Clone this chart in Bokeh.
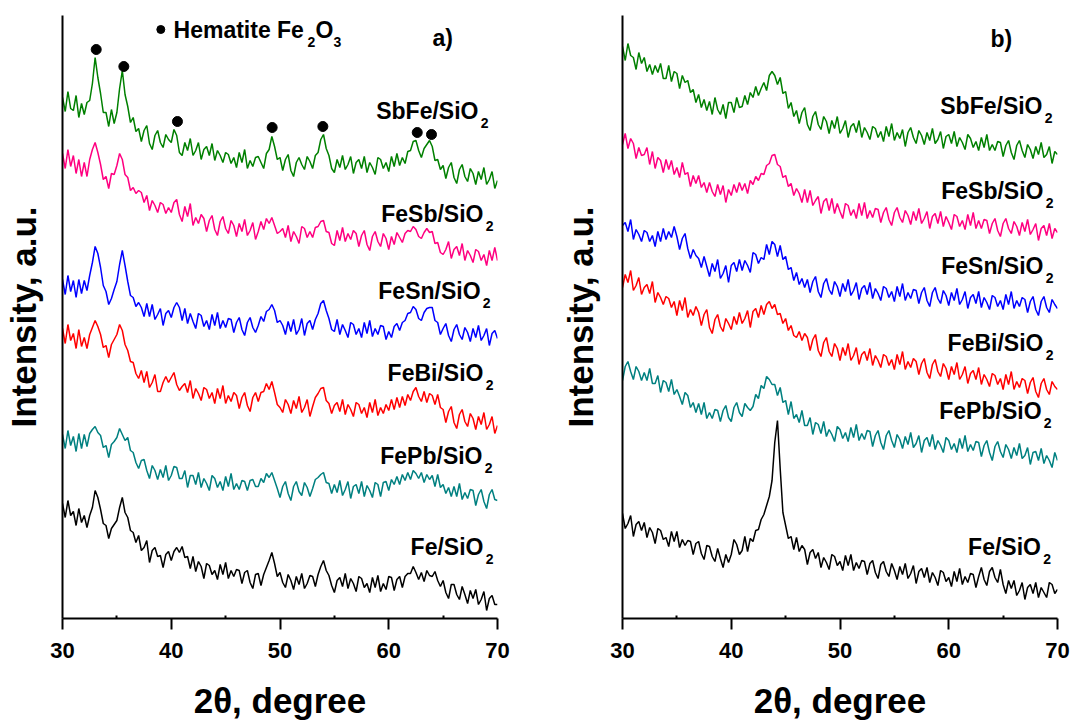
from bokeh.plotting import figure
from bokeh.layouts import row
from bokeh.models import Range1d, FixedTicker
from bokeh.core.properties import value
from bokeh.embed import file_html
from bokeh.resources import INLINE

FONT_NAME = "Liberation Sans"
FONT = value(FONT_NAME)

# 2-theta sampling (degrees), 0.25 deg step from 30 to 70
TWO_THETA = [round(30 + 0.25 * i, 2) for i in range(161)]

# ---------- panel a) intensities (a.u., offset stacked) ----------
A_SBFE = [523,509,529,512, 510,525,503,517, 506,518,520,537, 563,543,527,508,
          508,494,511,497, 508,532,550,526, 514,498,503,489, 492,479,490,495,
          477,471,485,490, 478,473,486,481, 478,491,485,468, 465,478,470,482,
          465,470,478,461, 471,474,465,477, 460,470,465,458, 468,466,457,463,
          453,468,458,471, 452,460,454,463, 464,458,452,467, 471,484,474,461,
          463,450,461,466, 450,444,458,463, 456,451,464,459, 452,465,468,481,
          486,472,465,452, 448,461,453,465, 451,456,464,447, 458,461,452,464,
          448,458,453,446, 463,461,452,458, 449,464,454,467, 455,463,457,469,
          470,479,480,470, 463,472,476,480, 474,460,461,451, 455,442,453,458,
          443,437,451,456, 444,439,452,447, 436,449,441,453, 436,441,449,432, 440]
A_FESB = [467,452,471,454, 465,447,461,444, 458,444,461,471, 478,468,456,441,
          444,432,447,446, 455,467,461,446, 443,430,433,427, 430,428,418,425,
          410,420,415,408, 418,416,407,413, 408,418,421,406, 399,414,404,417,
          395,403,397,406, 402,389,400,405, 391,385,399,404, 392,387,400,395,
          384,397,389,401, 385,390,398,381, 389,399,391,402, 397,403,395,387,
          389,392,383,395, 379,389,384,377, 394,392,383,389, 383,393,394,399,
          400,389,388,377, 375,390,380,393, 379,387,381,390, 387,374,385,390,
          376,370,384,389, 379,374,387,382, 371,384,376,388, 383,378,387,390,
          389,394,391,384, 382,388,392,388, 389,377,378,368, 366,371,379,362,
          371,374,365,377, 360,370,365,358, 371,369,360,366, 355,370,360,373, 360]
A_FESN = [341,326,345,329, 340,323,341,327, 340,330,345,358, 374,367,353,335,
          329,316,322,331, 339,356,370,355, 339,325,323,314, 318,313,304,317,
          304,316,301,306, 312,295,307,310, 303,313,318,313, 300,312,297,307,
          299,292,307,305, 294,300,291,306, 295,308,292,300, 293,302,301,288,
          298,303,291,285, 298,303,293,288, 295,304,299,309, 311,316,310,298,
          300,295,286,299, 289,301,286,291, 302,285,297,300, 291,301,307,317,
          320,310,302,291, 289,301,286,296, 290,283,298,296, 286,292,283,298,
          287,300,284,292, 286,295,294,281, 289,283,294,297, 290,298,300,307,
          308,314,311,302, 300,308,312,313, 313,300,298,286, 292,297,285,279,
          291,296,286,281, 293,288,279,292, 283,295,280,285, 292,275,287,290, 282]
A_FEBI = [292,277,296,280, 287,272,291,274, 283,272,286,293, 300,294,286,273,
          275,263,276,281, 286,296,290,276, 270,259,258,247, 242,250,238,249,
          233,238,246,229, 229,238,244,238, 243,248,236,230, 234,237,228,240,
          222,232,227,220, 233,231,222,228, 217,232,222,235, 217,225,219,228,
          225,212,223,228, 215,209,223,228, 219,228,229,237, 231,239,228,216,
          213,208,221,216, 207,220,212,224, 208,213,221,204, 214,223,227,232,
          233,220,217,207, 215,218,209,221, 206,216,211,204, 218,216,207,213,
          203,218,208,221, 205,213,207,216, 210,221,211,223, 213,224,215,226,
          220,229,233,224, 219,229,218,227, 225,216,226,213, 211,198,209,214,
          198,192,206,211, 199,194,207,202, 191,204,196,208, 191,196,204,187, 195]
A_FEPB = [186,172,190,175, 184,169,187,172, 186,174,187,191, 194,188,185,173,
          175,163,176,179, 183,192,186,180, 183,170,168,158, 152,160,161,150,
          142,155,150,141, 151,143,155,140, 145,154,153,142, 142,150,133,145,
          145,136,148,133, 142,137,130,145, 142,133,139,130, 144,134,147,131,
          137,131,140,139, 130,140,141,134, 134,142,138,147, 143,148,140,132,
          123,134,139,127, 120,134,139,129, 125,138,133,124, 132,141,143,146,
          148,138,137,127, 136,128,140,125, 131,139,122,134, 136,127,139,124,
          135,130,123,138, 136,124,138,139, 130,141,136,144, 136,146,140,148,
          141,150,147,142, 148,138,146,141, 145,134,146,133, 136,127,133,124,
          134,124,137,121, 128,122,131,130, 115,126,131,119, 112,126,131,121, 120]
A_FE = [117,103,120,105, 109,95,112,98, 105,93,105,113, 130,123,111,97,
        95,82,92,96, 100,113,123,108, 103,90,88,78, 85,70,73,80,
        58,70,73,64, 65,53,66,69, 60,69,73,68, 74,63,64,52,
        64,49,59,54, 42,57,55,46, 50,41,56,46, 58,42,50,44,
        51,50,37,48, 50,38,32,46, 47,35,46,53, 60,68,57,44,
        48,38,33,46, 40,31,44,36, 47,32,37,45, 44,34,46,54,
        60,50,45,35, 28,40,43,34, 47,32,42,37, 29,44,42,33,
        37,28,43,33, 45,29,37,31, 44,43,30,41, 44,33,44,47,
        47,54,48,41, 48,39,50,45, 44,49,40,34, 40,28,22,36,
        36,26,21,34, 26,17,30,22, 31,16,21,29, 10,22,25,16, 16]

# ---------- panel b) intensities ----------
B_SBFE = [574,560,577,565, 563,551,568,557, 563,549,556,546, 555,548,557,542,
          542,555,539,549, 547,532,545,538, 540,528,531,518, 526,513,521,510,
          519,506,523,511, 506,516,502,518, 518,508,523,513, 514,525,516,528,
          523,534,525,532, 538,530,545,549, 545,536,543,527, 529,512,518,504,
          510,497,508,513, 496,490,504,509, 496,491,504,499, 487,500,492,504,
          487,492,500,483, 494,497,488,500, 483,493,488,481, 494,492,483,489,
          479,494,484,497, 480,488,482,491, 474,488,493,483, 477,490,485,476,
          488,480,492,477, 481,489,472,484, 486,477,489,474, 483,478,471,486,
          482,473,479,470, 483,473,486,470, 476,470,479,478, 464,475,480,468,
          461,475,480,470, 463,476,471,462, 474,466,478,463, 466,474,457,469, 466]
B_FESB = [476,487,472,482, 477,462,473,465, 466,473,456,469, 452,463,460,448,
          461,451,460,446, 453,443,458,446, 448,434,445,437, 445,433,438,428,
          438,429,424,436, 426,435,418,431, 425,436,428,438, 430,437,427,440,
          436,444,440,447, 446,455,457,465, 466,456,454,443, 445,434,437,425,
          432,427,418,431, 418,430,415,420, 424,407,419,422, 410,422,407,417,
          409,402,417,415, 405,411,402,417, 405,418,402,410, 403,412,411,398,
          408,413,401,395, 408,413,403,398, 410,405,396,409, 400,412,397,402,
          409,392,404,407, 397,409,394,404, 398,391,406,404, 394,400,391,406,
          395,408,392,400, 392,401,400,387, 397,402,390,384, 397,402,392,387,
          399,394,385,398, 389,401,386,391, 397,380,392,395, 385,397,382,392, 388]
B_FESN = [395,398,389,401, 381,391,386,379, 390,388,379,385, 374,389,379,392,
          381,389,383,394, 384,371,382,387, 372,362,371,365, 362,353,364,354,
          344,357,349,361, 342,347,355,338, 355,358,349,361, 350,360,355,348,
          368,366,357,363, 361,376,366,379, 376,364,375,361, 364,351,353,340,
          348,336,342,333, 341,328,339,344, 329,323,337,342, 331,326,339,334,
          324,337,329,341, 325,330,338,321, 332,335,326,338, 322,332,327,320,
          334,332,323,329, 319,334,324,337, 320,328,322,331, 330,317,328,333,
          320,314,328,333, 322,317,330,325, 315,328,320,332, 316,321,329,312,
          323,326,317,329, 313,323,318,311, 325,323,314,320, 311,326,316,329,
          312,320,314,323, 321,308,319,324, 311,305,319,324, 313,308,321,316, 312]
B_FEBI = [333,346,338,350, 330,335,343,326, 333,336,327,339, 318,328,323,316,
          324,322,313,319, 305,320,310,323, 303,311,305,314, 308,295,306,311,
          293,287,301,306, 294,289,302,297, 291,304,296,308, 297,302,310,293,
          309,312,303,315, 306,316,319,312, 316,306,307,297, 302,290,295,285,
          283,289,280,287, 283,270,281,286, 270,264,278,283, 269,264,277,272,
          260,273,265,277, 260,265,273,256, 266,269,260,272, 255,265,260,253,
          266,264,255,261, 251,266,256,269, 251,259,253,262, 259,246,257,262,
          248,242,256,261, 249,244,257,252, 241,254,246,258, 241,246,254,237,
          247,250,241,253, 236,246,241,234, 247,245,236,242, 231,246,236,249,
          231,239,233,242, 240,227,238,243, 229,223,237,242, 231,226,239,234, 231]
B_FEPB = [240,254,259,249, 241,254,249,240, 248,240,252,237, 237,245,228,240,
          238,229,241,226, 231,224,216,228, 225,213,218,208, 217,206,218,202,
          208,202,211,210, 199,210,215,203, 199,213,218,208, 204,217,213,210,
          214,226,222,235, 232,244,241,236, 236,225,233,218, 220,206,219,202,
          206,198,210,195, 195,203,186,198, 196,187,199,184, 191,186,179,194,
          191,182,188,179, 193,183,196,180, 187,181,190,189, 174,185,190,178,
          171,185,190,180, 173,186,181,172, 184,176,188,173, 177,185,168,180,
          183,174,186,171, 180,175,168,183, 180,171,177,168, 182,172,185,169,
          176,170,179,178, 164,175,180,168, 160,174,179,169, 163,176,171,162,
          173,165,177,162, 165,173,156,168, 169,160,172,157, 165,160,153,168, 160]
B_FE = [107,92,97,105, 84,96,99,90, 98,83,93,88, 77,92,90,81,
        83,74,89,79, 89,73,81,75, 80,79,66,77, 79,67,61,75,
        74,64,59,72, 62,53,66,58, 66,81,76,66, 70,84,69,82,
        79,90,91,101, 106,115,124,140, 178,200,152,108, 95,82,84,71,
        83,69,75,71, 56,68,71,62, 68,53,63,58, 51,66,64,55,
        59,50,65,55, 66,50,58,52, 60,59,46,57, 60,48,42,56,
        59,49,44,57, 50,41,54,46, 57,42,47,55, 37,49,52,43,
        53,38,48,43, 35,50,48,39, 43,34,49,39, 52,36,44,38,
        47,46,33,44, 53,41,35,49, 53,43,38,51, 36,27,40,32,
        40,25,30,38, 21,33,36,27, 38,23,33,28, 23,38,36,27, 31]

SAMPLES = ["SbFe/SiO", "FeSb/SiO", "FeSn/SiO", "FeBi/SiO", "FePb/SiO", "Fe/SiO"]
COLORS = ["#008000", "#ff0080", "#0000ff", "#ff0000", "#008080", "#000000"]
A_SERIES = [A_SBFE, A_FESB, A_FESN, A_FEBI, A_FEPB, A_FE]
B_SERIES = [B_SBFE, B_FESB, B_FESN, B_FEBI, B_FEPB, B_FE]

# label anchor (right edge x in deg, centre y in a.u.)
A_LABEL_X = [69.17, 69.63, 69.36, 69.63, 69.54, 69.63]
A_LABEL_Y = [510, 407, 330, 248, 165, 74]
B_LABEL_X = [69.54, 69.63, 69.63, 69.63, 69.45, 69.40]
B_LABEL_Y = [515, 430, 355, 278, 210, 74]

# hematite reflections marked in panel a
HEM_X = [33.10, 35.64, 40.57, 49.28, 53.94, 62.62, 63.93]
HEM_Y = [571, 554, 499, 493, 494, 488, 486]

for s in A_SERIES + B_SERIES:
    assert len(s) == len(TWO_THETA), len(s)


def panel(series, lab_x, lab_y, tag, tag_x, tag_y, width, bl, br, ylab_standoff):
    p = figure(width=width, height=724, output_backend="svg", toolbar_location=None,
               x_range=Range1d(30, 70), y_range=Range1d(2, 605),
               min_border_left=bl, min_border_right=br, min_border_top=15,
               min_border_bottom=106)
    p.outline_line_color = None
    p.grid.visible = False
    p.background_fill_color = "white"
    p.border_fill_color = "white"

    xa = p.xaxis[0]
    xa.ticker = FixedTicker(ticks=[30, 40, 50, 60, 70], minor_ticks=[35, 45, 55, 65])
    xa.axis_line_width = 2
    xa.major_tick_line_width = 2
    xa.minor_tick_line_width = 2
    xa.major_tick_out = 11
    xa.major_tick_in = 0
    xa.minor_tick_out = 0
    xa.minor_tick_in = 3
    xa.major_label_standoff = 13
    xa.major_label_text_font = FONT_NAME
    xa.major_label_text_font_style = "bold"
    xa.major_label_text_font_size = "22px"
    xa.major_label_text_color = "black"
    xa.axis_label = "2θ, degree"
    xa.axis_label_text_font = FONT_NAME
    xa.axis_label_text_font_style = "bold"
    xa.axis_label_text_font_size = "35px"
    xa.axis_label_text_color = "black"
    xa.axis_label_standoff = 20

    ya = p.yaxis[0]
    ya.ticker = FixedTicker(ticks=[])
    ya.axis_line_width = 2
    ya.major_tick_out = 0
    ya.major_tick_in = 0
    ya.minor_tick_out = 0
    ya.minor_tick_in = 0
    ya.major_label_standoff = 0
    ya.axis_label = "Intensity, a.u."
    ya.axis_label_text_font = FONT_NAME
    ya.axis_label_text_font_style = "bold"
    ya.axis_label_text_font_size = "35px"
    ya.axis_label_text_color = "black"
    ya.axis_label_standoff = ylab_standoff

    for ys, c in zip(series, COLORS):
        p.line(TWO_THETA, ys, line_color=c, line_width=1.5)

    p.text(x=lab_x, y=lab_y, text=SAMPLES, x_offset=-10,
           text_font=FONT, text_font_style="bold", text_font_size="23px",
           text_align="right", text_baseline="middle", text_color="black")
    p.text(x=lab_x, y=lab_y, text=["2"] * len(SAMPLES), y_offset=12,
           text_font=FONT, text_font_style="bold", text_font_size="14px",
           text_align="right", text_baseline="middle", text_color="black")
    p.text(x=[tag_x], y=[tag_y], text=[tag], text_font=FONT, text_font_style="bold",
           text_font_size="23px", text_align="left", text_baseline="middle",
           text_color="black")
    return p


pa = panel(A_SERIES, A_LABEL_X, A_LABEL_Y, "a)", 64.02, 583, 542, 62, 45, 20)
pa.scatter(HEM_X, HEM_Y, size=10, color="black")
pa.scatter([39.04], [591], size=8, color="black")
pa.text(x=[40.21, 53.26], y=[591, 591], text=["Hematite Fe", "O"],
        text_font=FONT, text_font_style="bold", text_font_size="23px",
        text_align="left", text_baseline="middle", text_color="black")
pa.text(x=[52.53, 54.92], y=[591, 591], text=["2", "3"], y_offset=12,
        text_font=FONT, text_font_style="bold", text_font_size="14px",
        text_align="left", text_baseline="middle", text_color="black")

pb = panel(B_SERIES, B_LABEL_X, B_LABEL_Y, "b)", 63.84, 582, 528, 80, 13, 23)

layout = row(pa, pb)
open("out.html", "w").write(file_html(layout, INLINE))
